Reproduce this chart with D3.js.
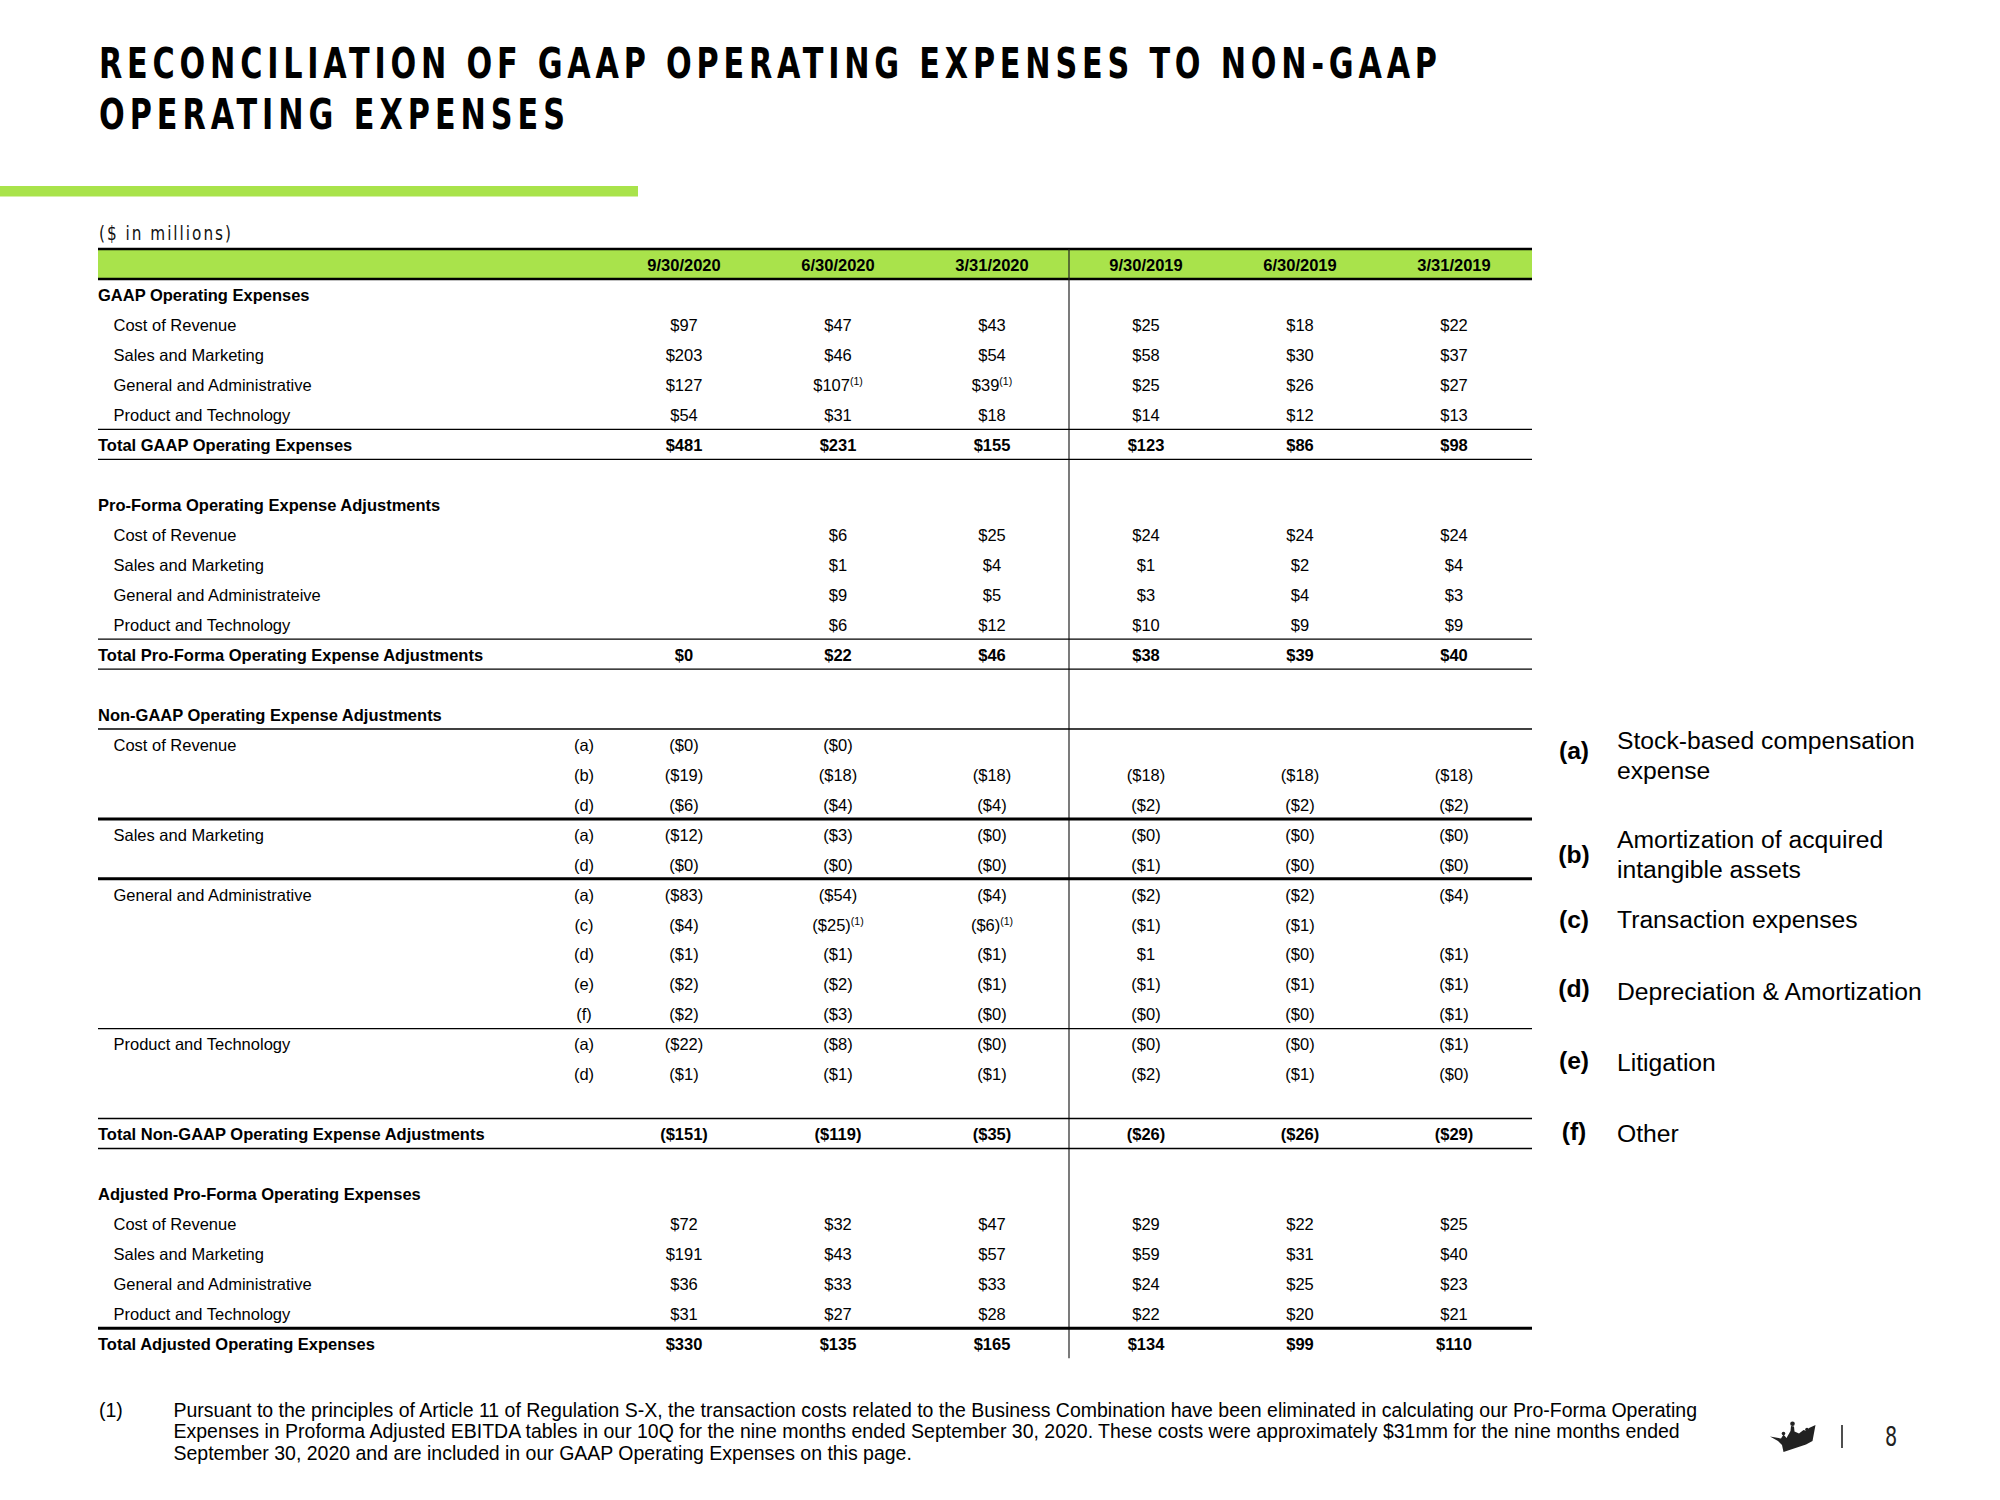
<!DOCTYPE html>
<html><head><meta charset="utf-8">
<script src="https://cdn.jsdelivr.net/npm/d3@7"></script>
<style>body{margin:0;background:#fff} svg{display:block}</style>
</head><body><svg id="c" width="2000" height="1500"></svg>
<script>
// ---------- DATA ----------
const titleLines = ["RECONCILIATION OF GAAP OPERATING EXPENSES TO NON-GAAP", "OPERATING EXPENSES"];
const unitLabel = "($ in millions)";
const periods = ["9/30/2020","6/30/2020","3/31/2020","9/30/2019","6/30/2019","3/31/2019"];

// GAAP operating expenses
const gaapCostOfRevenue = [97,47,43,25,18,22];
const gaapSalesMarketing = [203,46,54,58,30,37];
const gaapGenAdmin = [127,107,39,25,26,27];
const gaapGenAdminNotes = [null,"(1)","(1)",null,null,null];
const gaapProductTech = [54,31,18,14,12,13];
const gaapTotal = [481,231,155,123,86,98];

// Pro-forma adjustments
const pfCostOfRevenue = [null,6,25,24,24,24];
const pfSalesMarketing = [null,1,4,1,2,4];
const pfGenAdmin = [null,9,5,3,4,3];
const pfProductTech = [null,6,12,10,9,9];
const pfTotal = [0,22,46,38,39,40];

// Non-GAAP adjustments (negative; -0 shown as ($0))
const ngCorA = [-0,-0,null,null,null,null];
const ngCorB = [-19,-18,-18,-18,-18,-18];
const ngCorD = [-6,-4,-4,-2,-2,-2];
const ngSmA = [-12,-3,-0,-0,-0,-0];
const ngSmD = [-0,-0,-0,-1,-0,-0];
const ngGaA = [-83,-54,-4,-2,-2,-4];
const ngGaC = [-4,-25,-6,-1,-1,null];
const ngGaCNotes = [null,"(1)","(1)",null,null,null];
const ngGaD = [-1,-1,-1,1,-0,-1];
const ngGaE = [-2,-2,-1,-1,-1,-1];
const ngGaF = [-2,-3,-0,-0,-0,-1];
const ngPtA = [-22,-8,-0,-0,-0,-1];
const ngPtD = [-1,-1,-1,-2,-1,-0];
const ngTotal = [-151,-119,-35,-26,-26,-29];

// Adjusted pro-forma operating expenses
const adjCostOfRevenue = [72,32,47,29,22,25];
const adjSalesMarketing = [191,43,57,59,31,40];
const adjGenAdmin = [36,33,33,24,25,23];
const adjProductTech = [31,27,28,22,20,21];
const adjTotal = [330,135,165,134,99,110];

// Legend
const legendKeys = ["(a)","(b)","(c)","(d)","(e)","(f)"];
const legendTexts = [["Stock-based compensation","expense"],["Amortization of acquired","intangible assets"],["Transaction expenses"],["Depreciation & Amortization"],["Litigation"],["Other"]];

// Footnote
const footKey = "(1)";
const footLines = [
 "Pursuant to the principles of Article 11 of Regulation S-X, the transaction costs related to the Business Combination have been eliminated in calculating our Pro-Forma Operating",
 "Expenses in Proforma Adjusted EBITDA tables in our 10Q for the nine months ended September 30, 2020. These costs were approximately $31mm for the nine months ended",
 "September 30, 2020 and are included in our GAAP Operating Expenses on this page."
];
const pageNumber = "8";

// ---------- TABLE STRUCTURE ----------
const S = (label, rule) => ({kind:"section", label, rule});
const I = (label, values, key, notes, rule) => ({kind:"item", label, values, key, notes, rule});
const T = (label, values, rule) => ({kind:"total", label, values, rule});
const B = (rule) => ({kind:"blank", rule});
const rows = [
 S("GAAP Operating Expenses"),
 I("Cost of Revenue", gaapCostOfRevenue),
 I("Sales and Marketing", gaapSalesMarketing),
 I("General and Administrative", gaapGenAdmin, null, gaapGenAdminNotes),
 I("Product and Technology", gaapProductTech, null, null, "thin"),
 T("Total GAAP Operating Expenses", gaapTotal, "thin"),
 B(),
 S("Pro-Forma Operating Expense Adjustments"),
 I("Cost of Revenue", pfCostOfRevenue),
 I("Sales and Marketing", pfSalesMarketing),
 I("General and Administrateive", pfGenAdmin),
 I("Product and Technology", pfProductTech, null, null, "thin"),
 T("Total Pro-Forma Operating Expense Adjustments", pfTotal, "thin"),
 B(),
 S("Non-GAAP Operating Expense Adjustments", "thin"),
 I("Cost of Revenue", ngCorA, "(a)"),
 I("", ngCorB, "(b)"),
 I("", ngCorD, "(d)", null, "thick"),
 I("Sales and Marketing", ngSmA, "(a)"),
 I("", ngSmD, "(d)", null, "thick"),
 I("General and Administrative", ngGaA, "(a)"),
 I("", ngGaC, "(c)", ngGaCNotes),
 I("", ngGaD, "(d)"),
 I("", ngGaE, "(e)"),
 I("", ngGaF, "(f)", null, "thin"),
 I("Product and Technology", ngPtA, "(a)"),
 I("", ngPtD, "(d)"),
 B("thin"),
 T("Total Non-GAAP Operating Expense Adjustments", ngTotal, "thin"),
 B(),
 S("Adjusted Pro-Forma Operating Expenses"),
 I("Cost of Revenue", adjCostOfRevenue),
 I("Sales and Marketing", adjSalesMarketing),
 I("General and Administrative", adjGenAdmin),
 I("Product and Technology", adjProductTech, null, null, "thick"),
 T("Total Adjusted Operating Expenses", adjTotal)
];

// ---------- DRAW ----------
const svg = d3.select("#c");
svg.append("rect").attr("width",2000).attr("height",1500).attr("fill","#fff");
const GREEN = "#A9E34B";
const FONT = "'Liberation Sans', Arial, sans-serif";
const FS = 16.5;

// Title
const tsx = 0.8;
const tg = svg.append("g").attr("transform", `translate(99,0) scale(${tsx},1)`);
tg.selectAll("text").data(titleLines).join("text")
  .attr("x", 0).attr("y", (d,i) => [78.5,129.5][i])
  .attr("font-family", "'DejaVu Sans Condensed','DejaVu Sans',sans-serif")
  .attr("font-weight", "bold").attr("font-size", 42).attr("fill", "#000")
  .attr("textLength", (d,i) => [1338,466][i] / tsx).attr("lengthAdjust", "spacing")
  .text(d => d);

// green accent bar
svg.append("rect").attr("x",0).attr("y",186).attr("width",638).attr("height",10.5).attr("fill",GREEN);

// unit label
const usx = 0.85;
svg.append("g").attr("transform", `translate(99,0) scale(${usx},1)`)
  .append("text").attr("x",0).attr("y",240)
  .attr("font-family","'DejaVu Sans Condensed','DejaVu Sans',sans-serif")
  .attr("font-size",20).attr("fill","#111")
  .attr("textLength",132/usx).attr("lengthAdjust","spacing")
  .text(unitLabel);

// scales
const x = d3.scalePoint().domain(periods).range([684,1454]);
const y = d3.scaleLinear().domain([0, rows.length-1]).range([294.6, 1343.2]);
const tableLeft = 98, tableRight = 1532;
const headTop = 249, headBottom = 279;
const base = FS*0.35 + 1;

// header band
svg.append("rect").attr("x",tableLeft).attr("y",headTop).attr("width",tableRight-tableLeft).attr("height",headBottom-headTop).attr("fill",GREEN);
svg.selectAll("text.hdr").data(periods).join("text").attr("class","hdr")
  .attr("x", d => x(d)).attr("y", (headTop+headBottom)/2 + base)
  .attr("text-anchor","middle").attr("font-family",FONT).attr("font-weight","bold")
  .attr("font-size",FS).attr("fill","#000").text(d => d);
svg.append("line").attr("x1",tableLeft).attr("x2",tableRight).attr("y1",headTop).attr("y2",headTop).attr("stroke","#000").attr("stroke-width",2.6);
svg.append("line").attr("x1",tableLeft).attr("x2",tableRight).attr("y1",headBottom).attr("y2",headBottom).attr("stroke","#000").attr("stroke-width",2.6);

// vertical divider between 2020 and 2019
const divX = (x(periods[2]) + x(periods[3]))/2;
svg.append("line").attr("x1",divX).attr("x2",divX).attr("y1",headTop).attr("y2",y(rows.length-1)+15)
  .attr("stroke","#222").attr("stroke-width",1.2);

// rows
const fmt = v => {
  if (v === null || v === undefined) return "";
  const neg = v < 0 || Object.is(v, -0);
  const s = "$" + Math.abs(v);
  return neg ? "(" + s + ")" : s;
};

rows.forEach((r, i) => {
  const cy = y(i) + base;
  if (r.kind === "section" || r.kind === "total") {
    svg.append("text").attr("x", tableLeft).attr("y", cy)
      .attr("font-family",FONT).attr("font-weight","bold").attr("font-size",FS).attr("fill","#000")
      .text(r.label);
  } else if (r.kind === "item" && r.label) {
    svg.append("text").attr("x", tableLeft + 15.5).attr("y", cy)
      .attr("font-family",FONT).attr("font-size",FS).attr("fill","#000").text(r.label);
  }
  if (r.key) {
    svg.append("text").attr("x", 584).attr("y", cy).attr("text-anchor","middle")
      .attr("font-family",FONT).attr("font-size",FS).attr("fill","#000").text(r.key);
  }
  if (r.values) {
    const cells = periods.map((p, j) => ({p, v: r.values[j], note: r.notes ? r.notes[j] : null}));
    const t = svg.append("g").selectAll("text").data(cells).join("text")
      .attr("x", d => x(d.p)).attr("y", cy).attr("text-anchor","middle")
      .attr("font-family",FONT).attr("font-size",FS).attr("fill","#000")
      .attr("font-weight", r.kind === "total" ? "bold" : "normal");
    t.append("tspan").text(d => fmt(d.v));
    t.filter(d => d.note).append("tspan").attr("font-size",10.5).attr("dy",-6).text(d => d.note);
  }
  if (r.rule) {
    const ry = y(i + 0.5);
    svg.append("line").attr("x1",tableLeft).attr("x2",tableRight).attr("y1",ry).attr("y2",ry)
      .attr("stroke","#000").attr("stroke-width", r.rule === "thick" ? 3 : 1.4);
  }
});

// Legend
const LFS = 24.7;
const legKeyY = [759,863,928,997,1069,1140];
const legTextY = [749,848,928,1000,1071,1142];
legendKeys.forEach((k, i) => {
  svg.append("text").attr("x",1574).attr("y",legKeyY[i]).attr("text-anchor","middle")
    .attr("font-family",FONT).attr("font-weight","bold").attr("font-size",LFS).attr("fill","#000").text(k);
  legendTexts[i].forEach((line, j) => {
    svg.append("text").attr("x",1617).attr("y",legTextY[i] + j*29.5)
      .attr("font-family",FONT).attr("font-size",LFS).attr("fill","#000").text(line);
  });
});

// Footnote
const footY = [1416.5,1438,1459.5];
const ft = svg.append("g");
const first = ft.append("text").attr("x",173.5).attr("y",footY[0]).attr("font-family",FONT).attr("font-size",18).text(footLines[0]);
const w = first.node().getComputedTextLength();
const ffs = 18 * 1524 / w;
first.remove();
ft.selectAll("text").data(footLines).join("text")
  .attr("x",173.5).attr("y",(d,i)=>footY[i]).attr("font-family",FONT).attr("font-size",ffs).attr("fill","#000").text(d=>d);
svg.append("text").attr("x",99).attr("y",footY[0]).attr("font-family",FONT).attr("font-size",ffs).attr("fill","#000").text(footKey);

// Logo crown, separator and page number
const crown = svg.append("g").attr("transform","translate(1770,1421)").attr("fill","#222");
crown.append("path")
  .attr("d","M0,15.5 L11,17.5 L13.5,13.5 L16.5,17 L20.5,10 L21,5 L24,5.5 L24.5,10.5 L29,12.5 L33.5,9 L37,10 L39,7 L45.5,4 L42.5,20 L36,23.5 L13.5,31 L12,24 L8,20 Z");
crown.append("circle").attr("cx",22.5).attr("cy",2.8).attr("r",2.3);
crown.append("circle").attr("cx",13.5).attr("cy",12.5).attr("r",1.8);
crown.append("circle").attr("cx",37).attr("cy",8.5).attr("r",1.8);
svg.append("line").attr("x1",1842).attr("x2",1842).attr("y1",1425).attr("y2",1448).attr("stroke","#222").attr("stroke-width",1.6);
svg.append("g").attr("transform","translate(1891,0) scale(0.82,1)")
  .append("text").attr("x",0).attr("y",1446).attr("text-anchor","middle")
  .attr("font-family","'DejaVu Sans Condensed','DejaVu Sans',sans-serif").attr("font-size",26).attr("fill","#222").text(pageNumber);
</script></body></html>
